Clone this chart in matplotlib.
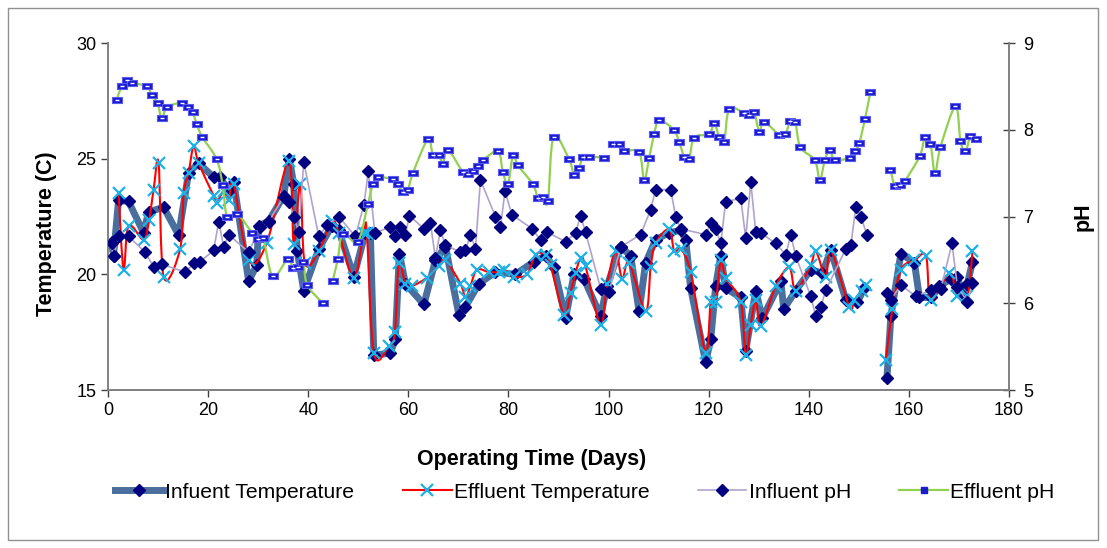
import numpy as np
import matplotlib
matplotlib.use('Agg')
import matplotlib.pyplot as plt
from matplotlib.path import Path
from matplotlib.patches import PathPatch, Rectangle
from matplotlib.lines import Line2D

plt.rcParams['font.family'] = ['Liberation Sans', 'DejaVu Sans']

# Infuent temperature (C)
it_day = [0.7, 1.1, 2.1, 4.1, 7.1, 8.1, 11.1, 14.1, 16.1, 18.1, 21.1, 22.4, 24.1, 25.1,
          28.1, 29.7, 30.1, 32.1, 35.1, 36.2, 37.1, 37.8, 39.1, 42.1, 44.7, 46.1, 49.1,
          51.4, 52.4, 53.1, 56.4, 57.4, 58.2, 59.4, 63.1, 65.4, 67.4, 70.1, 71.4, 74.1,
          77.4, 81.4, 85.1, 87.4, 89.1, 91.4, 93.1, 95.1, 98.4, 99.7, 102.4, 104.4, 106.1,
          107.4, 109.4, 112.1, 114.4, 115.4, 116.4, 119.4, 120.4, 121.4, 122.4, 123.4,
          126.4, 127.4, 129.4, 130.7, 134.4, 135.0, 137.4, 140.4, 142.7, 144.4, 147.4,
          149.7, 151.1, np.nan, 155.6, 156.4, 158.4, 161.1, 162.1, 164.4, 166.1, 168.4,
          169.7, 170.7, 171.7, 172.7]
it_val = [21.4, 20.8, 23.2, 23.15, 21.8, 22.7, 22.9, 21.7, 24.4, 24.8, 24.2, 24.2, 23.6, 24.0,
          19.7, 20.4, 22.1, 22.3, 23.4, 25.0, 23.9, 21.0, 19.3, 21.1, 22.1, 21.9, 19.9,
          21.8, 21.8, 16.5, 16.6, 17.2, 20.9, 19.6, 18.7, 20.6, 21.2, 18.25, 18.6, 19.6,
          20.1, 20.0, 20.55, 20.8, 20.3, 18.1, 20.0, 19.8, 18.2, 19.5, 21.2, 20.8, 18.4,
          20.5, 21.5, 21.8, 21.9, 21.5, 19.4, 16.2, 17.2, 19.5, 20.8, 19.4,
          19.0, 16.7, 19.3, 18.1, 19.7, 18.5, 19.3, 20.2, 20.05, 21.05, 18.9,
          18.8, 19.4, np.nan, 15.5, 18.2, 20.9, 20.5, 19.0, 19.0, 19.5, 19.8,
          19.9, 19.1, 19.6, 20.55]

# Effluent temperature (C)
et_day = [2.1, 3.1, 4.1, 7.1, 8.2, 9.1, 10.1, 11.1, 14.4, 15.1, 16.1, 17.1, 18.1, 21.1, 21.7,
          23.1, 24.1, 25.1, 28.1, 31.7, 36.1, 37.1, 38.4, 39.3, 42.1, 44.7, 46.1, 49.1,
          51.1, 51.7, 53.1, 56.1, 57.3, 58.1, 59.4, 60.7, 63.7, 66.1, 67.4, 70.4, 71.4,
          72.4, 73.7, 76.1, 78.1, 79.1, 81.1, 83.7, 85.4, 87.4, 88.4, 91.1, 92.4, 93.4,
          94.4, 95.4, 98.4, 99.7, 101.4, 102.7, 104.1, 107.4, 108.4, 109.4, 112.1, 113.1,
          114.4, 116.4, 119.4, 120.4, 121.4, 122.4, 123.4, 126.4, 127.4, 128.4, 129.4,
          130.4, 133.4, 136.1, 137.4, 140.4, 141.4, 143.4, 144.4, 148.1, 149.1, 150.7,
          151.4, np.nan, 155.4, 156.7, 158.4, 161.1, 163.4, 164.4, 168.1, 169.7, 171.7, 172.7]
et_val = [23.5, 20.2, 22.1, 21.5, 22.35, 23.65, 24.8, 19.9, 21.1, 23.5, 24.4, 25.55, 24.8, 23.4, 23.1,
          23.6, 23.2, 23.9, 20.6, 21.35, 24.9, 21.3, 23.9, 20.5, 21.0, 22.3, 21.8, 19.85,
          21.8, 21.8, 16.6, 16.9, 17.5, 20.5, 19.6, 19.5, 19.85, 20.35, 20.6, 19.6, 19.0,
          19.5, 20.2, 20.1, 20.1, 20.2, 19.9, 20.0, 20.85, 20.85, 20.4, 18.25, 19.2, 20.05,
          20.7, 20.35, 17.8, 19.6, 21.0, 19.8, 20.5, 18.4, 20.3, 21.35, 21.95, 21.0,
          21.1, 20.1, 16.6, 18.8, 18.8, 20.6, 19.85, 18.8, 16.5, 17.8, 18.9,
          17.75, 19.5, 20.3, 19.3, 20.4, 21.0, 19.9, 21.05, 18.6, 18.9, 19.3,
          19.55, np.nan, 16.3, 18.5, 20.2, 20.6, 20.8, 18.9, 20.05, 19.05, 19.05, 21.0]

# Influent pH
ip_day = [0.7, 1.1, 2.1, 4.1, 7.4, 9.1, 10.7, 15.4, 17.1, 18.4, 21.1, 22.1, 23.1, 24.1, 28.1,
          30.4, 32.1, 35.1, 36.1, 37.1, 38.1, 39.1, 42.1, 43.7, 46.1, 49.4, 51.1, 52.0, 53.3,
          56.4, 57.4, 58.4, 59.4, 60.2, 63.1, 64.4, 65.4, 66.4, 67.4, 70.4, 71.4, 72.4, 73.4,
          74.4, 77.4, 78.4, 79.3, 80.7, 84.7, 86.4, 87.7, 91.4, 93.4, 94.4, 95.4, 98.4, 100.1,
          102.4, 106.4, 108.4, 109.4, 112.4, 113.4, 114.4, 119.4, 120.4, 121.4, 122.4, 123.4,
          126.4, 127.4, 128.4, 129.4, 130.4, 133.4, 135.4, 136.4, 137.4, 140.4, 141.4, 142.4,
          143.4, 147.4, 148.4, 149.4, 150.4, 151.6, np.nan, 155.6, 156.4, 158.4, 161.4, 164.4,
          166.4, 168.6, 169.7, 171.7, 172.7]
ip_val = [6.69, 6.54, 6.77, 6.77, 6.59, 6.42, 6.45, 6.36, 6.46, 6.48, 6.61, 6.94, 6.65, 6.79, 6.59,
          6.88, 6.94, 7.23, 7.17, 7.0, 6.82, 7.63, 6.77, 6.90, 7.0, 6.77, 7.13, 7.52, 6.81,
          6.88, 6.77, 6.88, 6.79, 7.01, 6.86, 6.93, 6.52, 6.84, 6.67, 6.59, 6.61, 6.79, 6.63,
          7.42, 7.0, 6.88, 7.29, 7.02, 6.86, 6.73, 6.82, 6.71, 6.81, 7.01, 6.82, 6.17, 6.13,
          6.65, 6.79, 7.08, 7.31, 7.31, 7.0, 6.86, 6.79, 6.92, 6.86, 6.69, 7.17,
          7.21, 6.75, 7.40, 6.82, 6.81, 6.69, 6.56, 6.79, 6.54, 6.08, 5.85, 5.96,
          6.15, 6.63, 6.67, 7.11, 7.0, 6.79, np.nan, 6.12, 6.04, 6.21, 6.08, 6.15,
          6.17, 6.69, 6.19, 6.02, 6.23]

# Effluent pH
ep_day = [1.7, 2.7, 3.7, 4.8, 7.8, 8.7, 9.9, 10.7, 11.8, 14.7, 15.9, 16.9, 17.7, 18.8, 21.7,
          22.9, 23.8, 25.8, 28.8, 29.9, 31.0, 32.9, 35.9, 36.9, 37.9, 39.0, 39.8, 42.9, np.nan,
          44.9, 45.9, 46.9, 49.9, 51.9, 52.9, 53.9, 56.9, 57.9, 58.9, 59.9, 60.9, 63.9, 64.9,
          66.1, 66.9, 67.9, 70.9, 71.9, 72.9, 73.9, 74.9, 77.9, 78.9, 79.9, 80.9, 81.9, 84.9,
          85.9, 86.9, 87.9, 89.0, 92.1, 93.1, 94.1, 94.9, 96.1, 99.1, np.nan, 100.9, 102.1,
          103.1, 106.1, 107.1, 108.1, 109.1, 110.1, 113.0, 114.1, 115.1, 116.1, 117.1, 120.1,
          121.1, 122.1, 123.1, 124.1, 127.1, 128.1, 129.1, 130.1, 131.1, 134.1, 135.3, 136.3,
          137.3, 138.3, 141.2, 142.2, 143.2, 144.2, 145.2, 148.2, 149.2, 150.1, 151.2, 152.3,
          np.nan, 156.3, 157.2, 158.3, 159.2, 162.2, 163.2, 164.3, 165.2, 166.3, 169.3, 170.3,
          171.3, 172.3, 173.4]
ep_val = [8.34, 8.50, 8.57, 8.54, 8.50, 8.40, 8.31, 8.13, 8.26, 8.31, 8.26, 8.20, 8.07, 7.92, 7.66,
          7.36, 6.99, 7.03, 6.81, 6.74, 6.75, 6.31, 6.51, 6.41, 6.42, 6.47, 6.21, 6.00, np.nan,
          6.26, 6.51, 6.80, 6.71, 7.14, 7.37, 7.45, 7.43, 7.37, 7.28, 7.31, 7.50, 7.89, 7.71,
          7.71, 7.61, 7.77, 7.51, 7.49, 7.53, 7.58, 7.65, 7.75, 7.51, 7.37, 7.71, 7.59, 7.37,
          7.21, 7.22, 7.18, 7.92, 7.66, 7.48, 7.56, 7.69, 7.69, 7.68, np.nan, 7.84, 7.84,
          7.76, 7.74, 7.42, 7.67, 7.95, 8.11, 8.00, 7.86, 7.69, 7.66, 7.91, 7.95,
          8.08, 7.92, 7.86, 8.24, 8.19, 8.17, 8.20, 7.98, 8.09, 7.94, 7.95, 8.10,
          8.09, 7.80, 7.65, 7.42, 7.65, 7.77, 7.65, 7.68, 7.75, 7.85, 8.12, 8.43,
          np.nan, 7.54, 7.35, 7.36, 7.41, 7.70, 7.92, 7.84, 7.50, 7.80, 8.27, 7.87,
          7.75, 7.93, 7.89]


def smooth_path(x, y):
    # Excel-style smoothed line: Catmull-Rom segments turned into cubic Beziers
    x = np.asarray(x, float)
    y = np.asarray(y, float)
    verts, codes = [], []
    ok = ~(np.isnan(x) | np.isnan(y))
    idx = np.where(ok)[0]
    runs = np.split(idx, np.where(np.diff(idx) != 1)[0] + 1)
    for r in runs:
        if len(r) < 2:
            continue
        p = np.column_stack([x[r], y[r]])
        n = len(p)
        verts.append(p[0])
        codes.append(Path.MOVETO)
        for i in range(n - 1):
            p0 = p[i - 1] if i > 0 else p[i]
            p1 = p[i]
            p2 = p[i + 1]
            p3 = p[i + 2] if i + 2 < n else p[i + 1]
            c1 = p1 + (p2 - p0) / 6.0
            c2 = p2 - (p3 - p1) / 6.0
            verts += [c1, c2, p2]
            codes += [Path.CURVE4] * 3
    return Path(verts, codes)


fig = plt.figure(figsize=(11.07, 5.48), dpi=100)
ax1 = fig.add_axes([0.0976, 0.2883, 0.8139, 0.6332])
ax2 = ax1.twinx()

navy = '#000080'
steel = '#4a6f9e'
cyan = '#1ab2e8'
lav = '#b0a3cc'
green = '#92d050'

ax1.plot(it_day, it_val, color=steel, lw=5, marker='D', ms=6.5, mfc=navy, mec=navy, zorder=3)
ax1.add_patch(PathPatch(smooth_path(et_day, et_val), fc='none', ec='red', lw=1.5, zorder=4))
ax1.plot(et_day, et_val, ls='none', marker='x', ms=9, mew=1.6, color=cyan, zorder=5)

ax2.plot(ip_day, ip_val, color=lav, lw=1.2, marker='D', ms=6.5, mfc=navy, mec=navy, zorder=3)
ax2.add_patch(PathPatch(smooth_path(ep_day, ep_val), fc='none', ec=green, lw=1.6, zorder=4))
rect = [(-1, -0.5), (1, -0.5), (1, 0.5), (-1, 0.5), (-1, -0.5)]
ax2.plot(ep_day, ep_val, ls='none', marker=rect, ms=7.5, mfc='#1a1ad0', mec='#5a5af0', mew=0.8, zorder=5)
ax2.plot(ep_day, ep_val, ls='none', marker='_', ms=3, mew=1, color='white', zorder=6)

ax1.set_xlim(0, 180)
ax1.set_ylim(15, 30)
ax2.set_ylim(5, 9)
ax1.set_xticks(range(0, 181, 20))
ax1.set_yticks([15, 20, 25, 30])
ax2.set_yticks([5, 6, 7, 8, 9])

for ax in (ax1, ax2):
    ax.spines['top'].set_visible(False)
    for s in ('left', 'right', 'bottom'):
        ax.spines[s].set_color('#808080')
        ax.spines[s].set_linewidth(1.2)
    ax.tick_params(labelsize=13, length=5, color='#404040', width=1)
ax2.tick_params(axis='y', direction='inout', length=9, pad=6)
ax1.tick_params(axis='y', direction='out')

ax1.set_xlabel('Operating Time (Days)', fontsize=15.5, fontweight='bold')
ax1.xaxis.set_label_coords(0.47, -0.17)
ax1.set_ylabel('Temperature (C)', fontsize=15.5, fontweight='bold')
ax1.yaxis.set_label_coords(-0.057, 0.45)
ax2.set_ylabel('pH', fontsize=15.5, fontweight='bold', labelpad=28)

handles = [
    Line2D([], [], color=steel, lw=5, marker='D', ms=6.5, mfc=navy, mec=navy),
    Line2D([], [], color='red', lw=1.5, marker='x', ms=9, mew=1.6, mec=cyan),
    Line2D([], [], color=lav, lw=1.2, marker='D', ms=6.5, mfc=navy, mec=navy),
    Line2D([], [], color=green, lw=1.6, marker='s', ms=4.5, mfc='#1a1ad0', mec='#1a1ad0'),
]
labels = ['Infuent Temperature', 'Effluent Temperature', 'Influent pH', 'Effluent pH']
fig.legend(handles, labels, loc='center', bbox_to_anchor=(0.528, 0.102), ncol=4,
           frameon=False, fontsize=15.2, handlelength=2.3, handletextpad=0.1,
           columnspacing=2.3)

fig.patches.append(Rectangle((8 / 1107, 8 / 548), 1090 / 1107, 532 / 548, transform=fig.transFigure,
                             fill=False, ec='#909090', lw=1))

fig.savefig('out.png', dpi=100)
